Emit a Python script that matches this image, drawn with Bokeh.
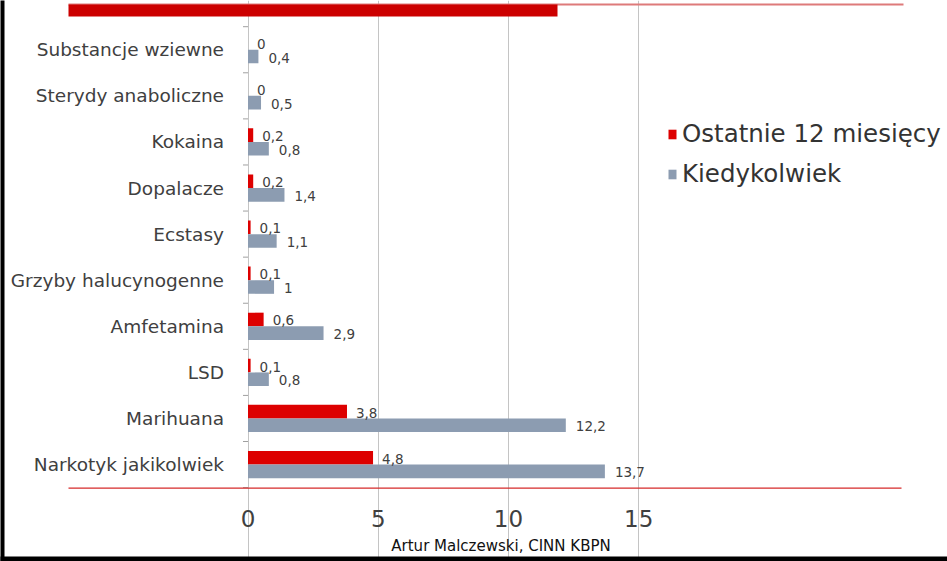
from bokeh.plotting import figure
from bokeh.models import (ColumnDataSource, FixedTicker, Grid, Label,
                          Legend, LegendItem, Range1d)
from bokeh.embed import file_html
from bokeh.resources import INLINE
from bokeh.core.properties import value

# ---- data (bottom to top) ----
categories = ["Narkotyk jakikolwiek", "Marihuana", "LSD", "Amfetamina",
              "Grzyby halucynogenne", "Ecstasy", "Dopalacze", "Kokaina",
              "Sterydy anaboliczne", "Substancje wziewne"]
last12 = [4.8, 3.8, 0.1, 0.6, 0.1, 0.1, 0.2, 0.2, 0, 0]
ever = [13.7, 12.2, 0.8, 2.9, 1.0, 1.1, 1.4, 0.8, 0.5, 0.4]
series_names = ["Ostatnie 12 miesięcy", "Kiedykolwiek"]
x_ticks = [0, 5, 10, 15]
footer_text = "Artur Malczewski, CINN KBPN"

RED = "#DD0000"
GREY = "#8C9CB1"
FONT = "DejaVu Sans"
TXT = "#404040"

W, H = 947, 561
# pixel layout of the chart area
X0PX, XS = 247.5, 26.05      # x=0 position, px per unit
Y0PX, YS = 487.1, 46.09      # bottom category boundary, px per category


def px2x(px):
    return (px - X0PX) / XS


def py2y(py):
    return (Y0PX - py) / YS


def fmt(v):
    return ("%g" % v).replace(".", ",")


n = len(categories)
centers = [i + 0.5 for i in range(n)]
OFF = 0.148
src_red = ColumnDataSource(dict(y=[c + OFF for c in centers], v=last12,
                                lab=[fmt(v) for v in last12]))
src_grey = ColumnDataSource(dict(y=[c - OFF for c in centers], v=ever,
                                 lab=[fmt(v) for v in ever]))
src_cat = ColumnDataSource(dict(y=centers, name=categories, x=[0] * n))
src_xt = ColumnDataSource(dict(x=x_ticks, y=[0] * len(x_ticks),
                               lab=[str(t) for t in x_ticks]))

p = figure(width=W, height=H, output_backend="svg", toolbar_location=None,
           x_axis_type=None, y_axis_type=None,
           x_range=Range1d(px2x(0), px2x(W)), y_range=Range1d(py2y(H), py2y(0)),
           min_border=0)
p.outline_line_color = None
p.background_fill_color = "white"
p.border_fill_color = "white"

# vertical grid lines (0 doubles as the category axis line)
grid = Grid(dimension=0, ticker=FixedTicker(ticks=x_ticks),
            bounds=(py2y(493), n), grid_line_color="#C4C4C4")
p.add_layout(grid)

# category boundary ticks
bounds_y = list(range(n + 1))
p.segment(x0=[px2x(242.5)] * len(bounds_y), x1=[0] * len(bounds_y),
          y0=bounds_y, y1=bounds_y, line_color="#A0A0A0", line_width=1)

# bars
BH = 0.295
r_red = p.hbar(y="y", left=0, right="v", height=BH, source=src_red,
               fill_color=RED, line_color=None)
r_grey = p.hbar(y="y", left=0, right="v", height=BH, source=src_grey,
                fill_color=GREY, line_color=None)

# value labels
for src, dx in ((src_red, 9), (src_grey, 10)):
    p.text(x="v", y="y", text="lab", source=src, x_offset=dx, y_offset=1,
           text_baseline="middle", text_align="left",
           text_font=value(FONT), text_font_size="13.5px", text_color=TXT)

# category labels
p.text(x="x", y="y", text="name", source=src_cat, x_offset=-24,
       text_align="right", text_baseline="middle",
       text_font=value(FONT), text_font_size="18.5px", text_color=TXT)

# x tick labels
p.text(x="x", y="y", text="lab", source=src_xt, y_offset=31,
       text_align="center", text_baseline="middle",
       text_font=value(FONT), text_font_size="23px", text_color=TXT)

# decorations: top bar, bottom red rule
p.quad(left=px2x(68), right=px2x(903), top=py2y(3), bottom=py2y(5),
       fill_color="#DE7A7A", line_color=None)
p.quad(left=px2x(68), right=px2x(557), top=py2y(4), bottom=py2y(16),
       fill_color="#CC0000", line_color=None)
p.quad(left=px2x(68), right=px2x(901), top=py2y(487), bottom=py2y(488.3),
       fill_color="#D62A2A", line_color=None)

# legend
legend = Legend(items=[LegendItem(label=series_names[0], renderers=[r_red]),
                       LegendItem(label=series_names[1], renderers=[r_grey])],
                location=(667, 373), orientation="vertical",
                glyph_width=10, glyph_height=12, label_standoff=5, spacing=11,
                padding=0, margin=0, border_line_color=None,
                background_fill_alpha=0,
                label_text_font=FONT, label_text_font_size="24.5px",
                label_text_color="#333333")
p.add_layout(legend)

footer = Label(x=px2x(500.5), y=py2y(545.5), text=footer_text,
               text_align="center", text_baseline="middle", text_font=FONT,
               text_font_size="15px", text_color="#111111")
p.add_layout(footer)

# black frame edges
p.quad(left=px2x(0), right=px2x(W), top=py2y(556), bottom=py2y(H),
       fill_color="#000000", line_color=None, level="overlay")
p.quad(left=px2x(0), right=px2x(4), top=py2y(0), bottom=py2y(H),
       fill_color="#000000", line_color=None, level="overlay")

open("out.html", "w").write(file_html(p, INLINE))
